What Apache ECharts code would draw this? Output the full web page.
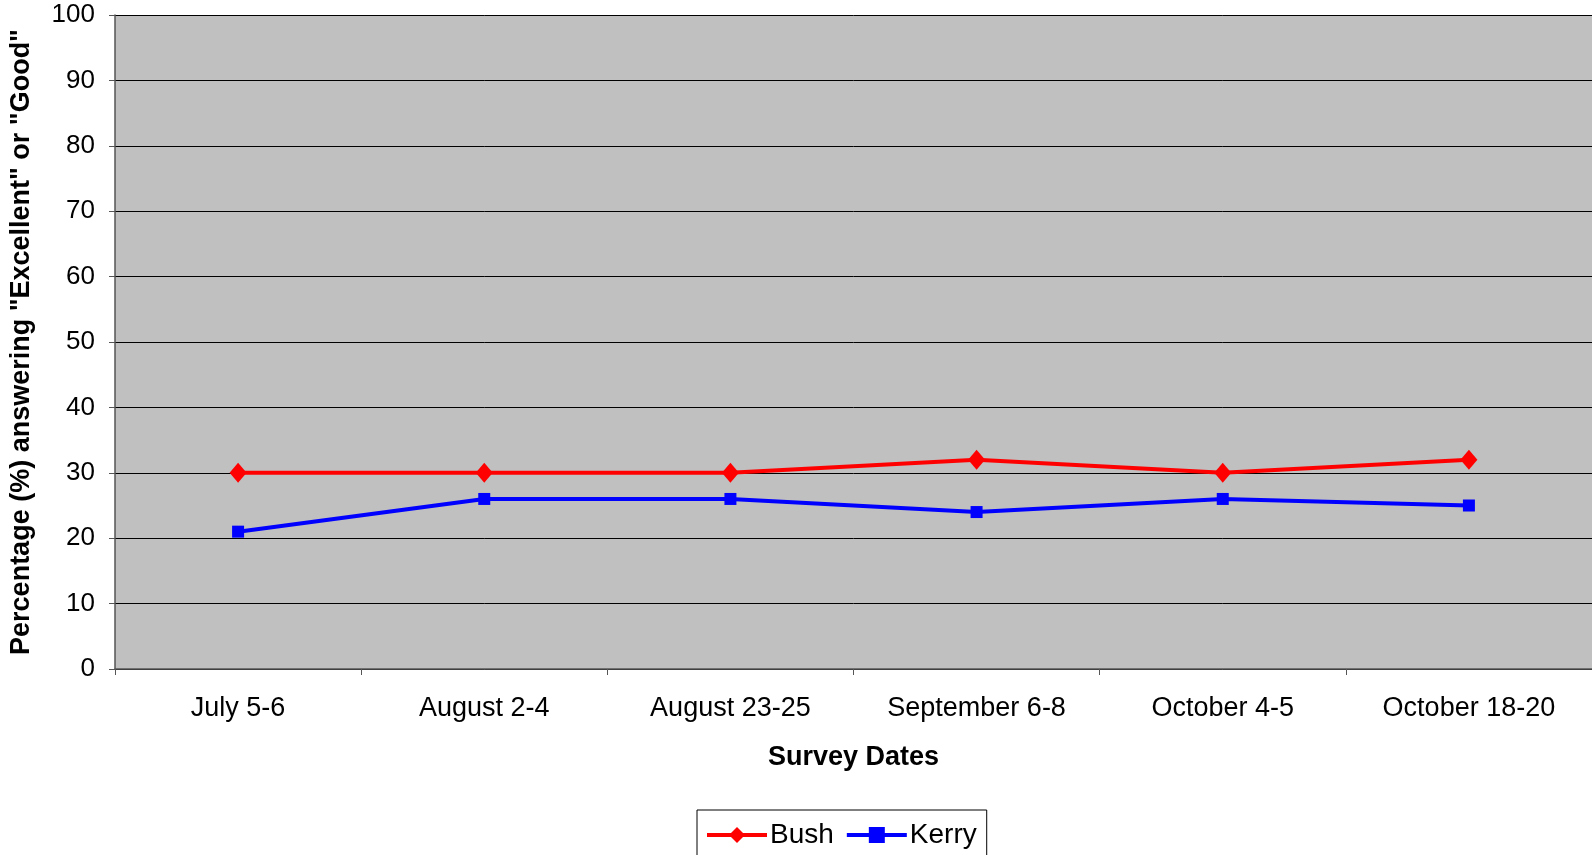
<!DOCTYPE html>
<html>
<head>
<meta charset="utf-8">
<script src="https://cdn.jsdelivr.net/npm/echarts@6/dist/echarts.min.js"></script>
<style>
  html, body { margin: 0; padding: 0; background: #fff; }
  #chart { width: 1592px; height: 855px; }
</style>
</head>
<body>
<div id="chart"></div>
<script>
// survey dates on the x axis
const surveyDates = ['July 5-6', 'August 2-4', 'August 23-25', 'September 6-8', 'October 4-5', 'October 18-20'];
// percent answering "Excellent" or "Good"
const bush = [30, 30, 30, 32, 30, 32];
const kerry = [21, 26, 26, 24, 26, 25];

const font = 'Liberation Sans, Arial, sans-serif';
const chart = echarts.init(document.getElementById('chart'));

chart.setOption({
  animation: false,
  textStyle: { fontFamily: font },
  grid: { left: 114, top: 15, right: -4, bottom: 186, show: true, backgroundColor: '#C0C0C0', borderWidth: 0 },
  legend: {
    top: 810,
    left: 697,
    itemWidth: 60,
    itemHeight: 20,
    itemGap: 11,
    padding: [11, 10, 30, 8],
    borderColor: '#000',
    borderWidth: 1,
    lineStyle: { width: 4 },
    textStyle: { fontSize: 28, color: '#000', fontFamily: font, padding: [0, 0, 0, -2] },
    data: ['Bush', 'Kerry']
  },
  xAxis: {
    type: 'category',
    data: surveyDates,
    boundaryGap: true,
    name: 'Survey Dates',
    nameLocation: 'middle',
    nameGap: 75,
    nameTextStyle: { fontSize: 27, fontWeight: 'bold', color: '#000' },
    axisLine: { lineStyle: { color: '#555', width: 1.5 } },
    axisTick: { show: true, interval: 0, length: 6, lineStyle: { color: '#555' } },
    axisLabel: { fontSize: 27, color: '#000', margin: 26, interval: 0 }
  },
  yAxis: {
    type: 'value',
    min: 0,
    max: 100,
    interval: 10,
    name: 'Percentage (%) answering "Excellent" or "Good"',
    nameLocation: 'middle',
    nameGap: 80,
    nameTextStyle: { fontSize: 27, fontWeight: 'bold', color: '#000' },
    axisLine: { show: true, lineStyle: { color: '#555', width: 1.5 } },
    axisTick: { show: true, length: 6, lineStyle: { color: '#555' } },
    axisLabel: { fontSize: 26, color: '#000', margin: 20 },
    splitLine: { show: true, lineStyle: { color: '#000', width: 1 } }
  },
  series: [
    {
      name: 'Bush',
      type: 'line',
      data: bush,
      symbol: 'diamond',
      symbolSize: [17, 20],
      itemStyle: { color: '#FF0000' },
      lineStyle: { color: '#FF0000', width: 4 }
    },
    {
      name: 'Kerry',
      type: 'line',
      data: kerry,
      symbol: 'rect',
      symbolSize: 12,
      itemStyle: { color: '#0000FF' },
      lineStyle: { color: '#0000FF', width: 4 }
    }
  ]
});
</script>
</body>
</html>
